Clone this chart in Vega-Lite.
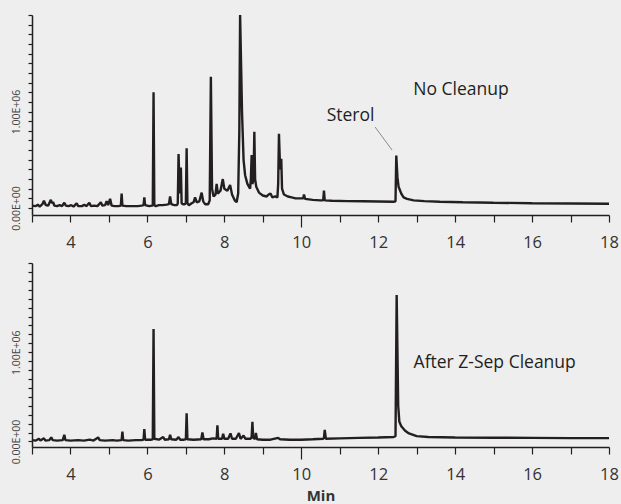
{
"$schema": "https://vega.github.io/schema/vega-lite/v6.json",
"background": "#eeeeee",
"padding": {"left": 10, "top": 13, "right": 5, "bottom": 2},
"config": {
 "view": {"stroke": null},
 "concat": {"spacing": 11},
 "font": "Open Sans",
 "axisX": {"tickCount": 60, "format": "d", "labelExpr": "datum.value % 2 == 0 ? datum.label : ''", "tickSize": {"condition": {"test": "datum.value == 10", "value": 12}, "value": 7}, "labelPadding": {"condition": {"test": "datum.value == 10", "value": 7}, "value": 12}, "grid": false, "labelFontSize": 16.5, "labelFont": "Open Sans", "labelColor": "#333333", "domainColor": "#231f20", "tickColor": "#231f20", "domainWidth": 1.5, "tickWidth": 1.2, "labelFlush": false, "labelOverlap": false, "titleFont": "Open Sans", "titleFontSize": 15, "titleFontWeight": "bold", "titleColor": "#333333", "titlePadding": 6},
 "axisY": {"tickCount": 60, "labelExpr": "datum.value == 0 ? '0.00E+00' : (datum.value == 1000000 ? '1.00E+06' : '')", "labelAngle": 270, "labelAlign": "center", "labelBaseline": "bottom", "tickSize": 4, "labelPadding": 7, "labelFontSize": 10.5, "labelFont": "Open Sans", "labelColor": "#444444", "grid": false, "labelOverlap": false, "labelFlush": false, "domainColor": "#231f20", "tickColor": "#231f20", "domainWidth": 1.5, "tickWidth": 1.2, "title": null}
},
"datasets": {
 "noCleanup": [
  {"time":3.0,"abundance":25000},{"time":3.1,"abundance":20000},{"time":3.15,"abundance":35000},{"time":3.2,"abundance":15000},{"time":3.27,"abundance":40000},{"time":3.31,"abundance":75000},{"time":3.36,"abundance":30000},{"time":3.42,"abundance":25000},{"time":3.46,"abundance":60000},{"time":3.49,"abundance":85000},{"time":3.52,"abundance":50000},{"time":3.55,"abundance":62000},{"time":3.58,"abundance":25000},{"time":3.65,"abundance":20000},{"time":3.72,"abundance":30000},{"time":3.78,"abundance":20000},{"time":3.84,"abundance":55000},{"time":3.88,"abundance":25000},{"time":3.95,"abundance":20000},{"time":4.02,"abundance":30000},{"time":4.08,"abundance":15000},{"time":4.16,"abundance":50000},{"time":4.2,"abundance":20000},{"time":4.3,"abundance":20000},{"time":4.36,"abundance":35000},{"time":4.42,"abundance":20000},{"time":4.49,"abundance":55000},{"time":4.53,"abundance":20000},{"time":4.62,"abundance":25000},{"time":4.7,"abundance":20000},{"time":4.79,"abundance":60000},{"time":4.83,"abundance":25000},{"time":4.9,"abundance":30000},{"time":4.94,"abundance":70000},{"time":4.98,"abundance":30000},{"time":5.03,"abundance":95000},{"time":5.07,"abundance":25000},{"time":5.15,"abundance":20000},{"time":5.25,"abundance":20000},{"time":5.31,"abundance":25000},{"time":5.33,"abundance":150000},{"time":5.35,"abundance":25000},{"time":5.45,"abundance":20000},{"time":5.6,"abundance":20000},{"time":5.75,"abundance":20000},{"time":5.85,"abundance":25000},{"time":5.9,"abundance":30000},{"time":5.92,"abundance":110000},{"time":5.94,"abundance":30000},{"time":6.05,"abundance":20000},{"time":6.12,"abundance":25000},{"time":6.14,"abundance":30000},{"time":6.16,"abundance":1200000},{"time":6.18,"abundance":30000},{"time":6.22,"abundance":20000},{"time":6.3,"abundance":30000},{"time":6.4,"abundance":30000},{"time":6.5,"abundance":35000},{"time":6.56,"abundance":40000},{"time":6.59,"abundance":120000},{"time":6.62,"abundance":40000},{"time":6.7,"abundance":30000},{"time":6.77,"abundance":30000},{"time":6.79,"abundance":50000},{"time":6.81,"abundance":560000},{"time":6.84,"abundance":150000},{"time":6.87,"abundance":420000},{"time":6.89,"abundance":50000},{"time":6.92,"abundance":40000},{"time":6.97,"abundance":40000},{"time":7.0,"abundance":50000},{"time":7.02,"abundance":620000},{"time":7.04,"abundance":50000},{"time":7.08,"abundance":30000},{"time":7.15,"abundance":50000},{"time":7.2,"abundance":60000},{"time":7.24,"abundance":110000},{"time":7.28,"abundance":60000},{"time":7.35,"abundance":70000},{"time":7.41,"abundance":160000},{"time":7.45,"abundance":70000},{"time":7.5,"abundance":40000},{"time":7.58,"abundance":40000},{"time":7.62,"abundance":80000},{"time":7.65,"abundance":1360000},{"time":7.68,"abundance":200000},{"time":7.72,"abundance":120000},{"time":7.77,"abundance":140000},{"time":7.8,"abundance":250000},{"time":7.83,"abundance":150000},{"time":7.9,"abundance":180000},{"time":7.96,"abundance":300000},{"time":8.0,"abundance":200000},{"time":8.08,"abundance":180000},{"time":8.15,"abundance":240000},{"time":8.2,"abundance":140000},{"time":8.27,"abundance":80000},{"time":8.32,"abundance":60000},{"time":8.36,"abundance":150000},{"time":8.39,"abundance":800000},{"time":8.41,"abundance":2000000},{"time":8.44,"abundance":1400000},{"time":8.46,"abundance":990000},{"time":8.5,"abundance":500000},{"time":8.54,"abundance":340000},{"time":8.6,"abundance":250000},{"time":8.67,"abundance":200000},{"time":8.69,"abundance":300000},{"time":8.71,"abundance":550000},{"time":8.73,"abundance":250000},{"time":8.76,"abundance":300000},{"time":8.78,"abundance":790000},{"time":8.8,"abundance":300000},{"time":8.83,"abundance":220000},{"time":8.9,"abundance":160000},{"time":9.0,"abundance":130000},{"time":9.1,"abundance":120000},{"time":9.15,"abundance":140000},{"time":9.2,"abundance":150000},{"time":9.25,"abundance":110000},{"time":9.32,"abundance":120000},{"time":9.38,"abundance":110000},{"time":9.4,"abundance":250000},{"time":9.42,"abundance":770000},{"time":9.45,"abundance":400000},{"time":9.48,"abundance":510000},{"time":9.5,"abundance":200000},{"time":9.55,"abundance":140000},{"time":9.65,"abundance":120000},{"time":9.75,"abundance":110000},{"time":9.85,"abundance":100000},{"time":9.95,"abundance":100000},{"time":10.05,"abundance":100000},{"time":10.07,"abundance":140000},{"time":10.1,"abundance":95000},{"time":10.3,"abundance":85000},{"time":10.5,"abundance":80000},{"time":10.57,"abundance":80000},{"time":10.59,"abundance":180000},{"time":10.61,"abundance":80000},{"time":10.8,"abundance":75000},{"time":11.2,"abundance":72000},{"time":11.6,"abundance":70000},{"time":12.0,"abundance":68000},{"time":12.4,"abundance":65000},{"time":12.45,"abundance":70000},{"time":12.47,"abundance":545000},{"time":12.5,"abundance":320000},{"time":12.53,"abundance":220000},{"time":12.6,"abundance":150000},{"time":12.66,"abundance":110000},{"time":12.75,"abundance":95000},{"time":12.92,"abundance":80000},{"time":13.2,"abundance":72000},{"time":13.6,"abundance":65000},{"time":14.2,"abundance":60000},{"time":15.0,"abundance":55000},{"time":16.0,"abundance":50000},{"time":17.0,"abundance":47000},{"time":18.0,"abundance":45000}
 ],
 "zSep": [
  {"time":3.0,"abundance":15000},{"time":3.1,"abundance":10000},{"time":3.18,"abundance":30000},{"time":3.22,"abundance":10000},{"time":3.31,"abundance":35000},{"time":3.35,"abundance":10000},{"time":3.45,"abundance":15000},{"time":3.5,"abundance":45000},{"time":3.54,"abundance":15000},{"time":3.65,"abundance":10000},{"time":3.8,"abundance":15000},{"time":3.84,"abundance":75000},{"time":3.87,"abundance":15000},{"time":4.0,"abundance":10000},{"time":4.2,"abundance":15000},{"time":4.35,"abundance":10000},{"time":4.5,"abundance":20000},{"time":4.6,"abundance":10000},{"time":4.72,"abundance":45000},{"time":4.76,"abundance":15000},{"time":4.9,"abundance":10000},{"time":5.1,"abundance":15000},{"time":5.2,"abundance":10000},{"time":5.33,"abundance":15000},{"time":5.35,"abundance":110000},{"time":5.37,"abundance":15000},{"time":5.5,"abundance":10000},{"time":5.7,"abundance":15000},{"time":5.85,"abundance":15000},{"time":5.9,"abundance":20000},{"time":5.92,"abundance":140000},{"time":5.94,"abundance":20000},{"time":6.1,"abundance":20000},{"time":6.14,"abundance":25000},{"time":6.16,"abundance":1260000},{"time":6.18,"abundance":30000},{"time":6.3,"abundance":20000},{"time":6.41,"abundance":50000},{"time":6.45,"abundance":20000},{"time":6.56,"abundance":25000},{"time":6.59,"abundance":75000},{"time":6.62,"abundance":25000},{"time":6.75,"abundance":20000},{"time":6.81,"abundance":50000},{"time":6.85,"abundance":20000},{"time":6.95,"abundance":20000},{"time":7.0,"abundance":25000},{"time":7.02,"abundance":315000},{"time":7.04,"abundance":25000},{"time":7.2,"abundance":20000},{"time":7.4,"abundance":25000},{"time":7.43,"abundance":100000},{"time":7.46,"abundance":25000},{"time":7.6,"abundance":25000},{"time":7.7,"abundance":35000},{"time":7.8,"abundance":30000},{"time":7.82,"abundance":180000},{"time":7.84,"abundance":30000},{"time":7.94,"abundance":30000},{"time":7.97,"abundance":85000},{"time":8.0,"abundance":30000},{"time":8.1,"abundance":30000},{"time":8.16,"abundance":90000},{"time":8.2,"abundance":30000},{"time":8.3,"abundance":30000},{"time":8.38,"abundance":95000},{"time":8.42,"abundance":30000},{"time":8.5,"abundance":65000},{"time":8.55,"abundance":30000},{"time":8.68,"abundance":30000},{"time":8.71,"abundance":50000},{"time":8.73,"abundance":220000},{"time":8.75,"abundance":40000},{"time":8.8,"abundance":30000},{"time":8.82,"abundance":95000},{"time":8.85,"abundance":25000},{"time":9.0,"abundance":20000},{"time":9.2,"abundance":20000},{"time":9.4,"abundance":40000},{"time":9.45,"abundance":25000},{"time":9.7,"abundance":20000},{"time":10.0,"abundance":20000},{"time":10.3,"abundance":25000},{"time":10.57,"abundance":30000},{"time":10.59,"abundance":40000},{"time":10.61,"abundance":130000},{"time":10.64,"abundance":30000},{"time":11.0,"abundance":35000},{"time":11.5,"abundance":40000},{"time":12.0,"abundance":45000},{"time":12.4,"abundance":50000},{"time":12.45,"abundance":60000},{"time":12.48,"abundance":1640000},{"time":12.52,"abundance":400000},{"time":12.55,"abundance":220000},{"time":12.6,"abundance":170000},{"time":12.7,"abundance":120000},{"time":12.8,"abundance":90000},{"time":13.0,"abundance":60000},{"time":13.3,"abundance":50000},{"time":14.0,"abundance":45000},{"time":15.0,"abundance":42000},{"time":16.0,"abundance":40000},{"time":17.0,"abundance":38000},{"time":18.0,"abundance":38000}
 ],
 "topNotes": [
  {"time":12.91,"abundance":1226000,"note":"No Cleanup"},
  {"time":10.66,"abundance":953000,"note":"Sterol"}
 ],
 "leader": [
  {"time":11.92,"abundance":839000,"time2":12.36,"abundance2":601000}
 ],
 "bottomNotes": [
  {"time":12.92,"abundance":878000,"note":"After Z-Sep Cleanup"}
 ]
},
"vconcat": [
 {
  "width": 577, "height": 200,
  "layer": [
   {"data": {"name": "noCleanup"}, "mark": {"type": "line", "color": "#231f20", "strokeWidth": 2.4, "strokeJoin": "bevel"},
    "encoding": {
     "x": {"field": "time", "type": "quantitative", "scale": {"domain": [3, 18], "nice": false, "zero": false}, "axis": {"title": null, "values": [3,4,5,6,7,8,9,10,11,12,13,14,15,16,17,18]}},
     "y": {"field": "abundance", "type": "quantitative", "scale": {"domain": [-72000, 2000000], "nice": false, "zero": false}, "axis": {"values": [0,100000,200000,300000,400000,500000,600000,700000,800000,900000,1000000,1100000,1200000,1300000,1400000,1500000,1600000,1700000,1800000,1900000,2000000]}}
    }},
   {"data": {"name": "leader"}, "mark": {"type": "rule", "color": "#8a8a8a", "strokeWidth": 1},
    "encoding": {"x": {"field": "time", "type": "quantitative"}, "y": {"field": "abundance", "type": "quantitative"}, "x2": {"field": "time2"}, "y2": {"field": "abundance2"}}},
   {"data": {"name": "topNotes"}, "mark": {"type": "text", "align": "left", "baseline": "middle", "font": "Open Sans", "fontSize": 17.5, "color": "#231f20"},
    "encoding": {"x": {"field": "time", "type": "quantitative"}, "y": {"field": "abundance", "type": "quantitative"}, "text": {"field": "note"}}}
  ]
 },
 {
  "width": 577, "height": 184,
  "layer": [
   {"data": {"name": "zSep"}, "mark": {"type": "line", "color": "#231f20", "strokeWidth": 2.4, "strokeJoin": "bevel"},
    "encoding": {
     "x": {"field": "time", "type": "quantitative", "scale": {"domain": [3, 18], "nice": false, "zero": false}, "axis": {"title": "Min", "values": [3,4,5,6,7,8,9,10,11,12,13,14,15,16,17,18]}},
     "y": {"field": "abundance", "type": "quantitative", "scale": {"domain": [-62000, 2000000], "nice": false, "zero": false}, "axis": {"values": [0,100000,200000,300000,400000,500000,600000,700000,800000,900000,1000000,1100000,1200000,1300000,1400000,1500000,1600000,1700000,1800000,1900000,2000000]}}
    }},
   {"data": {"name": "bottomNotes"}, "mark": {"type": "text", "align": "left", "baseline": "middle", "font": "Open Sans", "fontSize": 17.5, "color": "#231f20"},
    "encoding": {"x": {"field": "time", "type": "quantitative"}, "y": {"field": "abundance", "type": "quantitative"}, "text": {"field": "note"}}}
  ]
 }
]
}
